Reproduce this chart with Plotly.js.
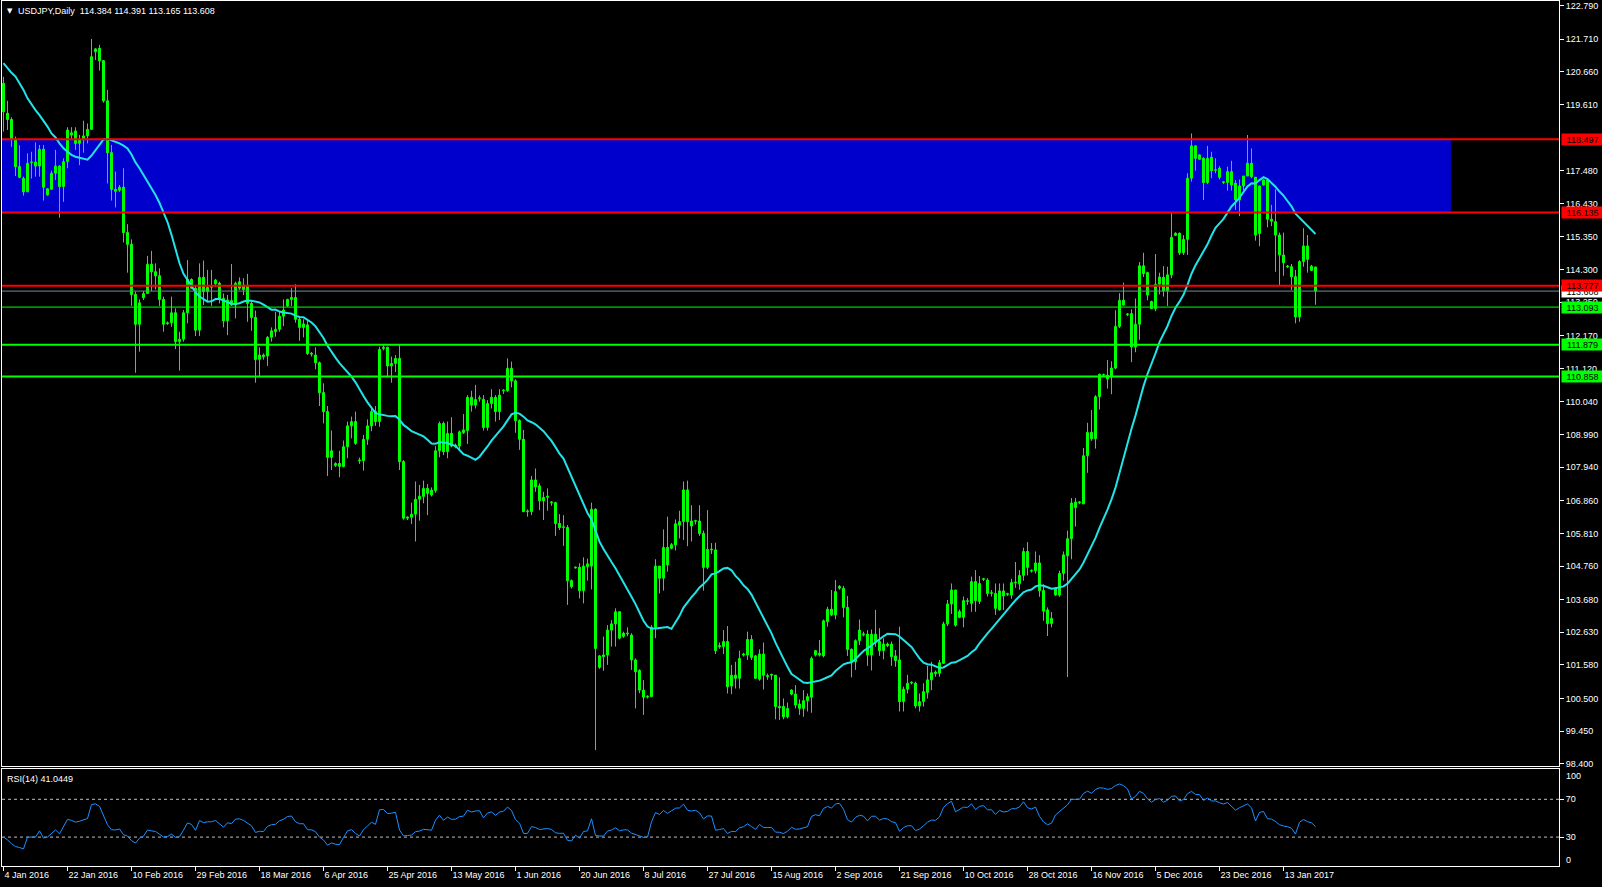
<!DOCTYPE html>
<html>
<head>
<meta charset="utf-8">
<script src="https://cdn.plot.ly/plotly-3.0.1.min.js"></script>
<style>
html,body{margin:0;padding:0;background:#000;}
#chart{width:1602px;height:887px;}
</style>
</head>
<body>
<div id="chart"></div>
<script>
// ---- Daily USDJPY bars (bar index 0 = 4 Jan 2016, including Sunday bars) ----
const open = [
120.29,119.33,119.13,118.49,117.61,117.23,116.80,117.74,117.76,117.63,
118.17,116.70,116.88,117.40,117.63,116.97,117.77,118.70,118.76,118.36,
118.47,118.60,118.81,121.40,121.42,121.02,119.73,118.06,116.88,116.85,
116.95,115.49,115.11,113.50,112.54,113.39,113.53,114.47,114.23,114.10,
113.34,112.56,112.59,112.91,111.98,112.06,112.91,113.98,113.70,112.35,
114.05,113.59,113.73,113.84,113.86,113.37,112.65,113.30,113.16,113.70,
113.80,113.80,113.21,112.76,111.41,111.55,111.52,112.12,112.30,112.38,
112.80,113.13,113.34,113.40,112.70,112.55,112.52,111.60,111.55,111.30,
110.34,109.73,108.26,108.00,108.06,107.96,108.60,109.27,109.41,108.15,
108.15,108.84,109.27,109.73,109.41,111.76,111.80,111.20,111.28,111.44,
108.12,106.30,106.33,106.43,106.91,107.00,107.26,107.20,107.19,108.47,
109.35,108.44,109.03,108.60,108.62,109.05,109.12,110.19,109.94,110.15,
110.12,109.22,109.99,110.19,109.73,110.40,110.40,111.12,110.72,109.44,
108.84,106.51,106.51,107.53,107.34,106.86,106.97,106.80,106.80,106.13,
106.00,106.00,104.29,104.70,104.72,103.97,104.74,104.76,106.59,101.50,
101.90,101.90,102.70,102.90,103.29,102.50,102.60,102.54,101.74,101.40,
100.77,100.55,100.56,102.79,104.76,104.37,105.36,105.33,105.44,106.08,
106.19,107.21,106.21,106.20,106.21,105.81,104.72,105.30,105.28,102.20,
102.17,102.33,100.90,101.25,101.15,101.90,101.90,102.40,101.87,101.12,
101.93,101.20,101.27,101.25,100.24,100.24,99.91,100.77,100.64,100.18,
100.18,100.43,100.54,101.90,101.95,101.87,102.97,103.37,103.19,104.10,
104.04,103.43,102.08,101.68,102.36,102.55,102.57,101.90,102.33,102.33,
102.04,102.25,102.25,101.87,101.74,100.40,100.80,101.00,100.99,100.26,
100.40,100.69,101.10,101.35,101.31,101.63,102.90,103.54,103.99,103.11,
103.11,103.62,103.56,104.26,103.62,104.33,104.31,103.88,103.88,103.35,
103.96,103.85,103.83,104.22,104.19,104.46,105.23,104.60,104.61,104.86,
103.97,103.35,102.91,103.83,103.83,104.52,105.09,105.64,106.64,106.80,
106.76,108.31,109.06,108.86,110.21,110.90,110.90,110.84,111.13,112.47,
113.31,112.85,112.88,111.81,112.54,114.42,114.20,113.27,113.04,113.83,
114.05,113.62,114.13,115.40,115.47,114.84,115.27,117.24,118.28,117.99,
117.88,117.10,117.91,117.49,117.56,117.10,117.10,117.45,117.08,116.54,
116.99,117.31,117.72,117.27,115.46,117.02,117.18,115.92,115.84,115.41,
114.77,114.40,114.39,114.07,112.78,114.56,115.06,114.27,114.384
];
const high = [
120.50,119.73,119.20,118.58,118.30,117.29,118.04,118.09,118.39,118.31,
118.31,116.92,117.48,118.15,117.66,117.88,118.88,118.88,118.88,118.63,
119.09,119.00,121.72,121.42,121.53,121.04,120.08,118.31,117.45,117.02,
117.56,115.76,115.27,113.59,113.34,113.61,114.74,114.90,114.50,114.34,
113.43,112.63,113.43,113.05,112.30,113.00,114.61,114.02,113.77,114.50,
114.59,114.29,114.29,114.00,113.91,113.53,113.48,114.48,113.91,114.05,
114.02,114.16,113.27,112.98,111.80,111.60,112.16,112.44,112.94,112.94,
113.34,113.36,113.70,113.83,112.76,112.70,112.70,111.65,111.80,111.34,
110.64,109.91,109.12,108.10,108.47,108.80,109.41,109.57,109.73,108.25,
108.98,109.48,109.89,109.91,111.82,111.86,111.82,111.50,111.55,111.87,
108.17,106.36,106.80,107.48,107.37,107.51,107.40,107.29,108.62,109.41,
109.41,109.41,109.55,108.70,109.12,109.65,110.26,110.40,110.59,110.25,
110.26,110.10,110.45,110.26,110.45,110.45,111.44,111.34,110.77,109.48,
109.14,106.58,107.66,107.90,107.42,107.15,107.26,106.85,106.83,106.43,
106.40,106.08,104.33,104.75,104.85,105.04,105.00,106.80,106.62,101.90,
102.49,102.86,103.02,103.40,103.29,102.65,102.79,102.60,101.79,101.44,
101.09,100.60,102.86,104.98,104.76,105.94,106.35,105.50,106.26,106.54,
107.48,107.51,106.72,106.25,106.72,105.90,106.56,105.50,105.51,102.30,
102.70,102.83,101.58,101.68,102.04,101.97,102.65,102.54,101.90,102.08,
102.30,101.30,101.30,101.25,101.18,100.50,100.37,100.80,100.93,100.47,
100.77,100.66,101.85,102.05,102.38,103.04,103.45,103.99,104.31,104.15,
104.12,103.80,102.11,102.40,103.04,102.65,102.70,102.72,103.35,102.76,
102.44,102.30,102.33,102.06,102.81,100.88,101.26,101.05,101.04,100.66,
100.99,101.55,101.68,101.40,101.74,102.97,103.67,104.20,103.99,103.36,
103.78,103.73,104.42,104.63,104.44,104.38,104.37,103.99,104.20,104.20,
104.20,103.90,104.35,104.89,104.63,105.35,105.53,104.65,105.23,105.11,
104.17,103.43,103.28,104.08,104.61,105.23,105.90,106.95,106.95,106.85,
108.56,109.37,109.78,110.26,110.95,110.95,111.39,111.35,112.99,113.54,
113.88,112.90,113.02,113.37,114.54,114.84,114.23,113.30,114.80,114.20,
114.41,114.39,116.13,115.50,115.49,115.41,117.40,118.68,118.28,118.00,
117.91,118.28,118.09,117.88,117.63,117.15,117.61,117.80,117.18,117.20,
117.31,118.63,118.20,117.27,116.99,117.20,117.24,116.38,116.88,115.49,
115.49,114.45,114.48,114.29,114.60,115.63,115.41,114.45,114.391
];
const low = [
118.74,118.79,118.25,117.31,117.24,116.68,116.80,117.23,117.29,117.29,
116.52,116.68,116.86,117.18,115.97,116.48,117.56,118.47,118.15,117.66,
118.06,118.36,118.79,121.04,120.70,119.67,117.07,116.52,116.30,116.80,
115.17,114.20,113.13,110.98,111.66,113.32,113.53,113.61,113.66,113.13,
112.30,112.52,112.46,111.74,111.05,111.98,112.57,113.69,112.16,112.16,
113.16,113.27,113.13,113.75,113.21,112.44,112.19,113.13,112.73,113.64,
113.48,112.62,112.33,110.66,110.83,111.40,111.20,111.98,112.14,112.30,
112.48,113.10,113.13,112.59,112.01,112.12,111.55,111.50,111.09,109.91,
109.35,107.66,107.85,107.95,107.62,107.94,108.23,108.87,108.66,108.05,
107.83,108.66,109.10,109.27,109.24,111.70,110.83,110.66,111.00,107.85,
106.25,106.24,106.11,105.55,106.22,106.78,106.40,107.00,107.12,108.26,
108.33,108.23,108.58,108.55,108.50,109.01,108.69,109.73,109.83,110.05,
109.12,109.12,109.83,109.41,109.46,110.30,110.37,110.51,109.05,108.50,
106.50,106.35,106.40,107.15,106.56,106.24,106.54,106.70,105.73,105.92,
105.41,103.51,104.04,104.68,103.72,103.56,104.29,104.01,98.84,101.45,
101.39,101.58,102.17,102.17,102.40,102.45,102.50,101.42,100.18,100.67,
99.97,100.50,100.54,102.44,103.88,103.97,104.58,105.30,105.26,105.65,
105.60,105.40,105.55,106.10,105.73,103.97,104.66,105.15,101.93,102.10,
101.93,100.66,100.64,100.82,100.82,101.85,101.74,101.74,101.12,101.07,
100.79,101.10,101.10,99.83,99.81,99.83,99.86,100.60,100.18,99.97,
99.91,100.08,100.04,101.85,101.85,101.82,102.81,103.15,103.05,104.00,
103.11,101.87,101.18,101.42,102.22,102.50,101.55,101.40,102.17,101.87,
101.76,102.15,101.55,101.52,100.08,100.08,100.66,100.95,100.18,100.08,
100.24,100.50,100.77,101.20,101.20,101.61,102.83,103.22,102.81,103.08,
102.79,103.51,103.29,103.29,103.54,104.28,103.78,103.78,103.19,103.33,
103.35,103.80,103.71,104.06,104.00,104.29,104.46,104.55,104.52,103.77,
103.00,102.51,102.79,103.80,103.77,104.29,101.19,104.98,106.03,106.75,
106.76,107.76,108.79,108.54,109.80,110.85,110.47,110.29,111.09,112.42,
113.14,112.80,111.32,111.64,112.04,114.06,113.31,113.04,112.96,113.50,
113.43,113.13,114.02,115.38,114.77,114.77,114.77,117.13,117.48,117.84,
116.54,117.05,117.24,117.40,117.20,117.05,116.84,116.84,116.22,116.02,
116.84,117.31,117.24,115.23,115.05,117.00,115.66,115.70,114.23,113.77,
114.10,114.35,113.64,112.57,112.62,114.39,114.20,114.25,113.165
];
const close = [
119.38,119.13,118.49,117.61,117.27,116.80,117.72,117.76,117.63,118.17,
116.95,116.90,117.40,117.63,116.97,117.77,118.79,118.63,118.36,118.47,
118.60,118.81,121.15,121.31,121.02,119.73,118.06,116.88,116.82,116.95,
115.49,115.11,113.50,112.54,113.23,113.53,114.47,114.23,114.10,113.34,
112.54,112.59,112.91,111.98,112.06,112.91,113.99,113.70,112.35,114.05,
113.59,113.73,113.75,113.96,113.34,112.65,113.32,113.16,113.86,113.91,
113.66,113.21,112.76,111.41,111.55,111.50,112.12,112.33,112.38,112.80,
113.00,113.34,113.40,112.70,112.44,112.44,111.60,111.58,111.30,110.34,
109.73,108.26,108.47,108.06,107.97,108.60,109.27,109.41,108.71,108.17,
108.84,109.27,109.73,109.41,111.73,111.80,111.20,111.28,111.44,108.12,
106.30,106.34,106.43,106.91,107.01,107.26,107.10,107.05,108.47,109.35,
108.44,109.03,108.62,108.65,109.08,109.14,110.19,109.94,110.12,110.17,
109.22,109.99,110.19,109.73,110.26,110.40,111.12,110.72,109.44,108.84,
106.51,106.53,107.53,107.31,106.86,106.97,107.01,106.80,106.13,106.00,
106.02,104.29,104.10,104.72,103.97,104.76,104.83,106.59,102.11,101.87,
101.85,102.70,102.90,103.29,102.44,102.60,102.58,101.74,101.36,100.77,
100.54,100.56,102.79,104.76,104.37,105.36,104.80,105.45,106.12,106.19,
107.21,106.19,106.05,106.21,105.81,104.72,105.30,105.28,102.04,102.17,
102.33,100.88,101.25,101.15,101.79,101.93,102.40,101.82,101.15,101.93,
101.25,101.24,101.25,100.24,100.20,99.91,100.18,100.64,100.29,100.32,
100.43,100.56,101.79,102.04,101.90,103.00,103.37,103.19,103.94,104.05,
103.43,102.08,101.68,102.36,102.70,102.58,101.90,102.57,102.57,102.04,
102.25,102.20,101.85,101.72,100.40,100.80,100.99,101.00,100.26,100.40,
100.72,101.10,101.33,101.30,101.65,102.90,103.54,103.99,102.86,103.30,
103.65,103.62,104.26,103.65,104.20,104.33,103.88,103.90,103.40,103.96,
103.80,103.86,104.23,104.23,104.46,105.23,104.72,104.60,104.86,103.97,
103.31,102.91,103.08,104.06,104.52,105.12,105.64,106.79,106.82,106.82,
108.31,109.06,108.86,110.21,110.93,110.90,110.78,111.13,112.47,113.31,
113.16,112.85,111.81,112.54,114.42,114.17,113.48,113.04,113.83,114.06,
113.62,114.13,115.34,115.47,114.84,115.27,117.24,118.28,117.88,117.85,
117.10,117.88,117.48,117.50,117.27,117.11,117.45,117.02,116.54,116.99,
117.31,117.72,117.29,115.41,116.99,117.18,115.92,115.86,115.41,114.77,
114.52,114.39,114.07,112.78,114.56,115.06,114.63,114.41,113.608
];
// MA(20) values for the first bars (history before 4 Jan 2016)
const maHead = [120.94,120.78,120.63,120.51,120.29,120.08,119.81,119.60,119.43,119.27,
                119.09,118.90,118.68,118.55,118.36,118.20,118.09,117.99,117.93];
// RSI(14) values for the first bars
const rsiHead = [30,27,23,20,19,17.5,30,30,30,36.6,29,30,34,37.6,33.5];

// axis labels
const dateTickBars = [0,16,32,48,64,80,96,112,128,144,160,176,192,208,224,240,256,272,288,304,320];
const dateTickLabels = ['4 Jan 2016','22 Jan 2016','10 Feb 2016','29 Feb 2016','18 Mar 2016','6 Apr 2016',
  '25 Apr 2016','13 May 2016','1 Jun 2016','20 Jun 2016','8 Jul 2016','27 Jul 2016','15 Aug 2016',
  '2 Sep 2016','21 Sep 2016','10 Oct 2016','28 Oct 2016','16 Nov 2016','5 Dec 2016','23 Dec 2016','13 Jan 2017'];
const priceTicks = [122.790,121.710,120.660,119.610,117.480,116.430,115.350,114.300,113.250,112.170,
  111.120,110.040,108.990,107.940,106.860,105.810,104.760,103.680,102.630,101.580,100.500,99.450,98.400];

// horizontal levels
const resistanceLevels = [118.497,116.135,113.777];
const supportLevels = [113.093,111.879,110.858];
const supportWidths = [1,2,2];
const bidPrice = 113.608;
const zoneTop = 118.497, zoneBottom = 116.135, zoneEndBar = 361.85;
const rsiLevels = [30,70];
const rsiLabel = 'RSI(14) 41.0449';

// ---------------------------------------------------------------
const N = close.length;
[open, high, low].forEach(a => { if (a.length !== N) throw new Error('array length mismatch ' + a.length + ' vs ' + N); });
const idx = close.map((_, i) => i);

// wicks
const wx = [], wy = [];
for (let i = 0; i < N; i++) { wx.push(i, i, null); wy.push(low[i], high[i], null); }
// bodies
const bBase = idx.map(i => Math.min(open[i], close[i]));
const bH = idx.map(i => Math.max(Math.abs(close[i] - open[i]), 0.025));
const bCol = idx.map(i => close[i] >= open[i] ? '#000000' : '#FFFFFF');

// SMA 20
const ma = idx.map(i => {
  if (i < maHead.length) return maHead[i];
  let s = 0; for (let k = i - 19; k <= i; k++) s += close[k]; return s / 20;
});
// RSI 14 (Wilder)
const rsi = [];
for (let i = 0; i < rsiHead.length; i++) rsi.push(rsiHead[i]);
let S = 0; for (let k = 1; k <= 14; k++) S += Math.abs(close[k] - close[k - 1]); S /= 14;
let up = S * rsiHead[14] / 100, dn = S * (1 - rsiHead[14] / 100);
for (let i = rsiHead.length; i < N; i++) {
  const d = close[i] - close[i - 1];
  up = (up * 13 + Math.max(d, 0)) / 14;
  dn = (dn * 13 + Math.max(-d, 0)) / 14;
  rsi.push(dn === 0 ? 100 : 100 - 100 / (1 + up / dn));
}

const W = 1602, Hh = 887, ML = 2, MR = 43;
const plotW = W - ML - MR;
const px2paperX = x => (x - ML) / plotW;
const px2paperY = y => (Hh - y) / Hh;
const FONT = 'Liberation Sans, Arial, sans-serif';

const traces = [
  { type: 'scatter', mode: 'lines', x: wx, y: wy, xaxis: 'x', yaxis: 'y',
    line: { color: '#00FF00', width: 1 }, hoverinfo: 'skip' },
  { type: 'bar', x: idx, y: bH, base: bBase, width: 0.5, xaxis: 'x', yaxis: 'y',
    marker: { color: bCol, line: { color: '#00FF00', width: 1 } }, hoverinfo: 'skip' },
  { type: 'scatter', mode: 'lines', x: idx, y: ma, xaxis: 'x', yaxis: 'y',
    line: { color: '#20E4E8', width: 2 }, hoverinfo: 'skip' },
  { type: 'scatter', mode: 'lines', x: idx, y: rsi, xaxis: 'x2', yaxis: 'y2',
    line: { color: '#1E90FF', width: 1 }, hoverinfo: 'skip' }
];

const shapes = [];
shapes.push({ type: 'rect', xref: 'x', yref: 'y', x0: -5, x1: zoneEndBar, y0: zoneBottom, y1: zoneTop,
  fillcolor: '#0000CD', line: { width: 0 }, layer: 'below' });
resistanceLevels.forEach(p => shapes.push({ type: 'line', xref: 'paper', yref: 'y', x0: 0, x1: 1, y0: p, y1: p,
  line: { color: '#FF0000', width: 2 }, layer: 'above' }));
shapes.push({ type: 'line', xref: 'paper', yref: 'y', x0: 0, x1: 1, y0: bidPrice, y1: bidPrice,
  line: { color: '#778899', width: 1 }, layer: 'above' });
supportLevels.forEach((p, k) => shapes.push({ type: 'line', xref: 'paper', yref: 'y', x0: 0, x1: 1, y0: p, y1: p,
  line: { color: '#00FF00', width: supportWidths[k] }, layer: 'above' }));
rsiLevels.forEach(v => shapes.push({ type: 'line', xref: 'paper', yref: 'y2', x0: 0, x1: 1, y0: v, y1: v,
  line: { color: '#C0C0C0', width: 1, dash: '3px,3px' }, layer: 'below' }));

const annotations = [];
const boxX = px2paperX(1561);
function levelBox(p, bg) {
  annotations.push({ xref: 'paper', yref: 'y', x: boxX, y: p, xanchor: 'left', yanchor: 'middle',
    text: p.toFixed(3), showarrow: false, bgcolor: bg, font: { family: FONT, size: 9, color: '#000000' },
    width: 39, height: 9, borderpad: 1, align: 'center' });
}
levelBox(bidPrice, '#FFFFFF');
resistanceLevels.forEach(p => levelBox(p, '#FF0000'));
supportLevels.forEach(p => levelBox(p, '#00FF00'));

annotations.push({ xref: 'paper', yref: 'paper', x: px2paperX(9.5), y: px2paperY(11), xanchor: 'center', yanchor: 'middle',
  text: '▼', showarrow: false, font: { family: 'DejaVu Sans', size: 7, color: '#FFFFFF' } });
annotations.push({ xref: 'paper', yref: 'paper', x: px2paperX(16), y: px2paperY(11), xanchor: 'left', yanchor: 'middle',
  text: 'USDJPY,Daily&nbsp;&nbsp;' + [open[N-1], high[N-1], low[N-1], close[N-1]].map(v => v.toFixed(3)).join(' '),
  showarrow: false, font: { family: FONT, size: 9, color: '#FFFFFF' } });
annotations.push({ xref: 'paper', yref: 'paper', x: px2paperX(5), y: px2paperY(779), xanchor: 'left', yanchor: 'middle',
  text: rsiLabel, showarrow: false, font: { family: FONT, size: 9, color: '#FFFFFF' } });
annotations.push({ xref: 'paper', yref: 'y2', x: px2paperX(1564), y: 100, yshift: -5, xanchor: 'left', yanchor: 'middle',
  text: '100', showarrow: false, font: { family: FONT, size: 9, color: '#FFFFFF' } });
annotations.push({ xref: 'paper', yref: 'y2', x: px2paperX(1564), y: 0, yshift: 5, xanchor: 'left', yanchor: 'middle',
  text: '0', showarrow: false, font: { family: FONT, size: 9, color: '#FFFFFF' } });

const xRange = [(ML - 3.5) / 4, (W - MR - 3.5) / 4];
const mainTop = 1, mainBot = 766, rsiTop = 769, rsiBot = 866;
const mainPxPerUnit = 31.08, mainRef = 122.79, mainRefY = 5.7;
const yMainRange = [mainRef - (mainBot - mainRefY) / mainPxPerUnit, mainRef + (mainRefY - mainTop) / mainPxPerUnit];
const rsiPx = 0.945, rsi70Y = 799.3;
const yRsiRange = [70 - (rsiBot - rsi70Y) / rsiPx, 70 + (rsi70Y - rsiTop) / rsiPx];

const axCommon = { showgrid: false, zeroline: false, showline: true, mirror: true, linecolor: '#FFFFFF',
  linewidth: 1, automargin: false, fixedrange: true };

const layout = {
  width: W, height: Hh,
  margin: { l: ML, r: MR, t: 0, b: 0 },
  paper_bgcolor: '#000000', plot_bgcolor: '#000000',
  showlegend: false, hovermode: false, dragmode: false,
  font: { family: FONT, size: 9, color: '#FFFFFF' },
  xaxis: Object.assign({}, axCommon, { domain: [0, 1], range: xRange, anchor: 'y', showticklabels: false, ticks: '' }),
  yaxis: Object.assign({}, axCommon, { domain: [px2paperY(mainBot), px2paperY(mainTop)], range: yMainRange,
    anchor: 'x', side: 'right', tickmode: 'array', tickvals: priceTicks, ticktext: priceTicks.map(v => v.toFixed(3)),
    ticks: 'outside', ticklen: 4, tickcolor: '#FFFFFF', tickfont: { family: FONT, size: 9, color: '#FFFFFF' } }),
  xaxis2: Object.assign({}, axCommon, { domain: [0, 1], range: xRange, anchor: 'y2', tickmode: 'array',
    tickvals: dateTickBars, ticktext: dateTickLabels, ticks: 'outside', ticklen: 4, tickcolor: '#FFFFFF',
    ticklabelposition: 'outside right', tickfont: { family: FONT, size: 9, color: '#FFFFFF' } }),
  yaxis2: Object.assign({}, axCommon, { domain: [px2paperY(rsiBot), px2paperY(rsiTop)], range: yRsiRange,
    anchor: 'x2', side: 'right', tickmode: 'array', tickvals: rsiLevels, ticktext: rsiLevels.map(String),
    ticks: 'outside', ticklen: 4, tickcolor: '#FFFFFF', tickfont: { family: FONT, size: 9, color: '#FFFFFF' } }),
  shapes: shapes,
  annotations: annotations,
  bargap: 0
};

Plotly.newPlot('chart', traces, layout, { staticPlot: true, displayModeBar: false });
</script>
</body>
</html>
